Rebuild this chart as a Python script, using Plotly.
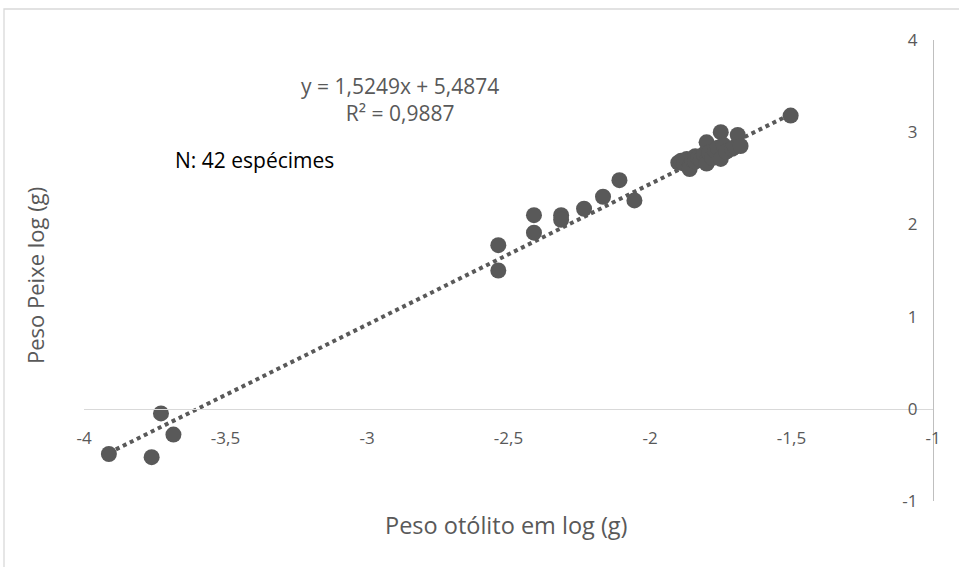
import plotly.graph_objects as go

# Data (log otolith weight vs log fish weight)
otolith_log = [
    -3.912, -3.761, -3.728, -3.684,
    -2.536, -2.536, -2.410, -2.410, -2.314, -2.314, -2.233, -2.166, -2.108, -2.055,
    -1.90, -1.89, -1.88, -1.87, -1.86, -1.86, -1.85, -1.84, -1.84, -1.83, -1.82,
    -1.81, -1.80, -1.80, -1.80, -1.79, -1.78, -1.77, -1.76, -1.75, -1.75, -1.74,
    -1.73, -1.71, -1.70, -1.69, -1.68,
    -1.503,
]
fish_log = [
    -0.49, -0.525, -0.05, -0.28,
    1.50, 1.775, 2.10, 1.91, 2.10, 2.05, 2.17, 2.30, 2.48, 2.26,
    2.67, 2.69, 2.66, 2.71, 2.63, 2.60, 2.70, 2.74, 2.68, 2.72, 2.70,
    2.76, 2.89, 2.69, 2.66, 2.78, 2.72, 2.80, 2.83, 3.00, 2.71, 2.86,
    2.79, 2.82, 2.84, 2.97, 2.85,
    3.18,
]
slope = 1.5249
intercept = 5.4874

x_ticks = [-4, -3.5, -3, -2.5, -2, -1.5, -1]
x_tick_labels = ["-4", "-3,5", "-3", "-2,5", "-2", "-1,5", "-1"]
y_ticks = [-1, 0, 1, 2, 3, 4]
y_tick_labels = ["-1", "0", "1", "2", "3", "4"]

W, H = 959, 567
OX, OY = 0, 0


def px(xp):
    return (xp - OX) / W


def py(yp):
    return 1 - (yp - OY) / H


x_dom = [px(84), px(933)]
y_dom = [py(501), py(40)]
y0_paper = y_dom[0] + (0 - (-1)) / 5 * (y_dom[1] - y_dom[0])

grey = "#595959"
font = "'Open Sans', Lato, sans-serif"

trend_x = [min(otolith_log), max(otolith_log)]
trend_y = [slope * v + intercept for v in trend_x]

fig = go.Figure()
fig.add_trace(go.Scatter(
    x=trend_x, y=trend_y, mode="lines",
    line=dict(color=grey, width=4, dash="4px,3.8px"),
    hoverinfo="skip", showlegend=False,
))
fig.add_trace(go.Scatter(
    x=otolith_log, y=fish_log, mode="markers",
    marker=dict(color=grey, size=16, line=dict(width=0)),
    showlegend=False,
))

ann_common = dict(xref="paper", yref="paper", showarrow=False,
                  xanchor="center", yanchor="middle")

fig.update_layout(
    width=W, height=H, autosize=False,
    margin=dict(l=0, r=0, t=0, b=0, pad=0, autoexpand=False),
    paper_bgcolor="white", plot_bgcolor="white",
    font=dict(family=font, color=grey),
    xaxis=dict(
        domain=x_dom, range=[-4, -1], anchor="free", position=y0_paper,
        tickvals=x_ticks, ticktext=x_tick_labels,
        showgrid=False, zeroline=False, automargin=False,
        showline=True, linecolor="#d9d9d9", linewidth=1.3,
        ticks="outside", ticklen=14, tickcolor="rgba(0,0,0,0)",
        tickfont=dict(size=17, color=grey, family=font),
    ),
    yaxis=dict(
        domain=y_dom, range=[-1, 4], anchor="free", position=min(x_dom[1], 1), side="left",
        tickvals=y_ticks, ticktext=y_tick_labels,
        showgrid=False, zeroline=False, automargin=False,
        showline=True, linecolor="#bfbfbf", linewidth=1.3,
        ticks="outside", ticklen=12, tickcolor="rgba(0,0,0,0)",
        tickfont=dict(size=17, color=grey, family=font),
    ),
    shapes=[dict(
        type="rect", xref="paper", yref="paper",
        x0=px(4), x1=1.05, y0=-0.05, y1=py(9),
        line=dict(color="#d9d9d9", width=1.3), fillcolor="rgba(0,0,0,0)",
        layer="below",
    )],
    annotations=[
        dict(text="Peso Peixe log (g)", x=px(35), y=py(276), textangle=-90,
             font=dict(size=22, color=grey, family=font), **ann_common),
        dict(text="Peso otólito em log (g)", x=px(506), y=py(525),
             font=dict(size=23.5, color=grey, family=font), **ann_common),
        dict(text="y = 1,5249x + 5,4874<br>R² = 0,9887", x=px(400), y=py(99),
             align="center", font=dict(size=21, color=grey, family=font), **ann_common),
        dict(text="N: 42 espécimes", x=px(254), y=py(160),
             font=dict(size=21, color="black", family=font), **ann_common),
    ],
)

fig.write_html(
    "out.html",
    config={"displayModeBar": False},
    post_script="document.body.style.margin='0';document.body.style.overflow='hidden';",
)
